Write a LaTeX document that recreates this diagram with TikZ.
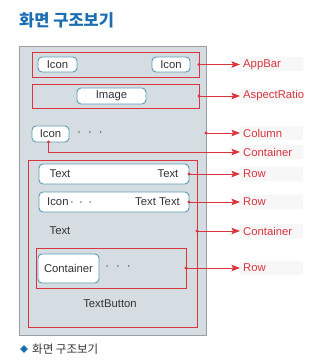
\documentclass[tikz,border=0pt]{standalone}
\usepackage{fontspec}
\setmainfont{Liberation Sans}
\newfontfamily\kr{Noto Sans CJK KR}
\usetikzlibrary{arrows.meta,shapes.geometric}
\definecolor{pnl}{HTML}{D5DDE3}
\definecolor{pnlline}{HTML}{9C9FA2}
\definecolor{rd}{HTML}{D9363F}
\definecolor{tl}{HTML}{5B9CB2}
\definecolor{ttl}{HTML}{1C6DB2}
\definecolor{txt}{HTML}{333333}
\definecolor{labbg}{HTML}{F7F7F7}
\newcommand{\mydots}[1]{·\hspace{#1}·\hspace{#1}·}
\tikzset{
  panelbox/.style={draw=pnlline, fill=pnl, line width=1pt, inner sep=0, outer sep=0},
  redbox/.style={draw=rd, line width=0.9pt, inner sep=0, outer sep=0},
  wnode/.style={draw=tl, fill=white, line width=0.9pt, rounded corners=4pt, inner sep=0, outer sep=0, text=txt, font=\fontsize{11.3}{13}\selectfont},
  plain/.style={inner sep=0, text=txt, font=\fontsize{11.3}{13}\selectfont},
  lab/.style={anchor=west, inner xsep=3pt, inner ysep=0, text=rd, fill=labbg, minimum height=14pt, text width=57pt, align=left, font=\fontsize{11.3}{13}\selectfont},
  rdot/.style={circle, fill=rd, inner sep=0, minimum size=3.2pt},
  conn/.style={draw=rd, line width=0.9pt, -{Stealth[length=8.5pt,width=6.5pt,inset=1.5pt]}},
}
\begin{document}
\begin{tikzpicture}[x=1pt,y=-1pt]
\useasboundingbox (0,0) rectangle (311,363);
% title
\node[anchor=west, inner sep=0, text=ttl, font=\kr\bfseries\fontsize{16.5}{18}\selectfont] (title) at (19,20) {화면 구조보기};
% panel
\node[panelbox, minimum width=187pt, minimum height=288pt] (panel) at (112.5,191) {};
% AppBar
\node[redbox, minimum width=167pt, minimum height=25pt] (appbar) at (115.5,64.5) {};
\node[wnode, minimum width=39pt, minimum height=15pt] (icon1) at (57.5,64.5) {Icon};
\node[wnode, minimum width=38pt, minimum height=15pt] (icon2) at (171,64.5) {Icon};
% AspectRatio
\node[redbox, minimum width=167pt, minimum height=24pt] (aspect) at (115.5,96) {};
\node[wnode, minimum width=69pt, minimum height=16pt] (image) at (111.5,96) {Image};
% Column
\node[wnode, minimum width=37pt, minimum height=16pt] (colicon) at (50.5,134) {Icon};
\node[plain] (coldots) at (90,133.5) {\mydots{7pt}};
% Container 2
\node[redbox, minimum width=169pt, minimum height=167pt] (cont2) at (112.5,243.5) {};
\node[wnode, minimum width=150pt, minimum height=20pt] (row1) at (114,174) {};
\node[plain] (r1a) at (60,174) {Text};
\node[plain] (r1b) at (168,174) {Text};
\node[wnode, minimum width=150pt, minimum height=20pt] (row2) at (114,202) {};
\node[plain, anchor=west] (r2a) at (47,202) {Icon\hspace{1.5pt}\mydots{5.4pt}};
\node[plain, anchor=east] (r2b) at (180,202) {Text Text};
\node[plain] (ctext) at (60,231) {Text};
\node[redbox, minimum width=150pt, minimum height=40pt] (row3) at (111,268) {};
\node[wnode, minimum width=61pt, minimum height=29pt] (contnode) at (68.5,268.5) {Container};
\node[plain] (r3dots) at (118,268) {\mydots{7pt}};
\node[plain] (tbtn) at (110,304) {TextButton};
% labels
\node[lab] (lAppBar) at (240,64.5) {AppBar};
\node[lab] (lAspect) at (240,96) {AspectRatio};
\node[lab] (lColumn) at (240,133) {Column};
\node[lab] (lCont1) at (240,152) {Container};
\node[lab] (lRow1) at (240,174) {Row};
\node[lab] (lRow2) at (240,202) {Row};
\node[lab] (lCont2) at (240,231) {Container};
\node[lab] (lRow3) at (240,268) {Row};
% connectors
\coordinate (dColumn) at (panel.east |- lColumn.west);
\coordinate (dCont1) at ([xshift=-2pt]colicon.south);
\coordinate (dCont2) at (cont2.east |- lCont2.west);
\draw[conn] (appbar.east) -- (lAppBar.west);
\draw[conn] (aspect.east) -- (lAspect.west);
\draw[conn] (dColumn) -- (lColumn.west);
\draw[conn] (dCont1) |- (lCont1.west);
\draw[conn] (row1.east) -- (lRow1.west);
\draw[conn] (row2.east) -- (lRow2.west);
\draw[conn] (dCont2) -- (lCont2.west);
\draw[conn] (row3.east) -- (lRow3.west);
\foreach \p in {appbar.east, aspect.east, dColumn, dCont1, row1.east, row2.east, dCont2, row3.east}
  \node[rdot] at (\p) {};
% caption
\node[diamond, fill=ttl, inner sep=0, minimum size=8pt] (cdia) at (24,349) {};
\node[anchor=west, inner sep=0, text=txt, font=\kr\fontsize{11.5}{13}\selectfont] (cap) at (32,349) {화면 구조보기};
\end{tikzpicture}
\end{document}
